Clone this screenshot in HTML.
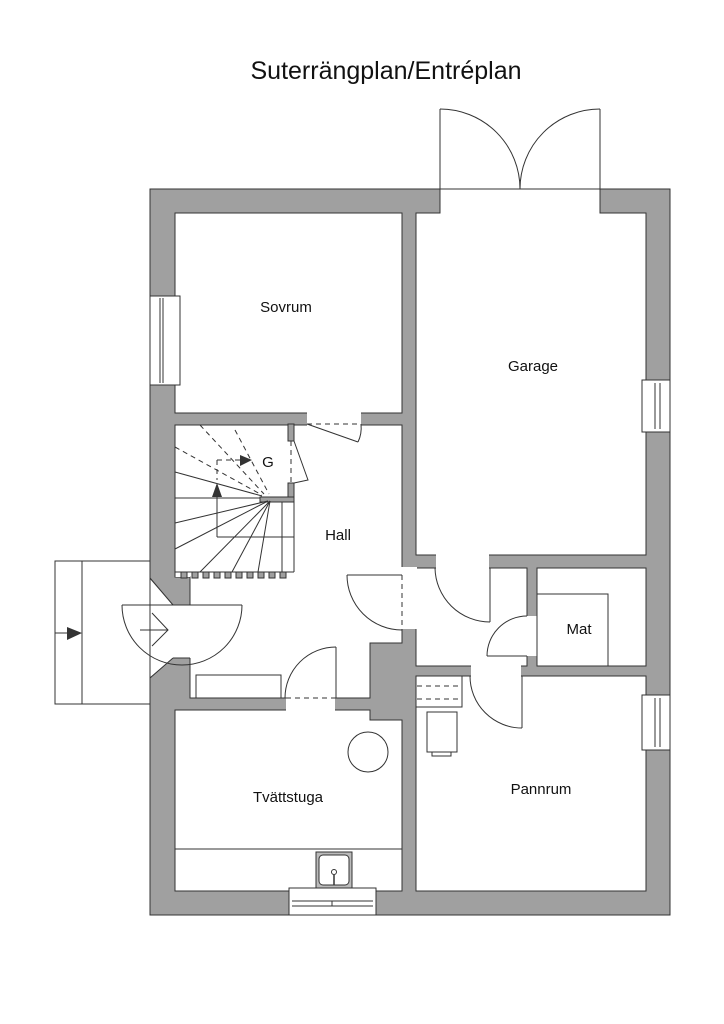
<!DOCTYPE html>
<html><head><meta charset="utf-8"><style>
html,body{margin:0;padding:0;background:#fff;}
svg{display:block;}
text{font-family:"Liberation Sans",sans-serif;fill:#111;}
</style></head><body>
<svg width="724" height="1024" viewBox="0 0 724 1024" xmlns="http://www.w3.org/2000/svg">
<g stroke="#333" stroke-width="1" fill="none">
<!-- building mass -->
<rect x="150" y="189" width="520" height="726" fill="#a0a0a0"/>
<!-- rooms -->
<rect x="175" y="213" width="227" height="200" fill="#fff"/>
<polygon points="416,213 440,213 440,189 600,189 600,213 646,213 646,555 416,555" fill="#fff"/>
<polygon points="175,425 402,425 402,643 370,643 370,698 190,698 190,577 175,577" fill="#fff"/>
<rect x="416" y="568" width="111" height="98" fill="#fff"/>
<rect x="537" y="568" width="109" height="98" fill="#fff"/>
<polygon points="175,710 370,710 370,720 402,720 402,891 175,891" fill="#fff"/>
<rect x="416" y="676" width="230" height="215" fill="#fff"/>
</g>
<!-- openings (no stroke) -->
<g fill="#fff" stroke="none">
<rect x="441" y="188" width="158" height="26"/>
<rect x="307" y="412" width="54" height="14"/>
<rect x="401" y="573" width="16" height="56"/>
<rect x="436" y="554" width="53" height="15"/>
<rect x="526" y="616" width="12" height="40"/>
<rect x="471" y="665" width="50" height="12"/>
<rect x="286" y="697" width="49" height="14"/>
<rect x="401" y="567" width="16" height="6"/>
<polygon points="149,578 173,605 191,605 191,658 173,658 149,678"/>
<rect x="175" y="572" width="15" height="5"/>
</g>
<g stroke="#333" stroke-width="1" fill="none">
<line x1="440" y1="189" x2="600" y2="189"/>
<line x1="173" y1="605" x2="190" y2="605"/>
<line x1="173" y1="658" x2="190" y2="658"/>
<line x1="150" y1="578" x2="173" y2="605"/>
<line x1="173" y1="658" x2="150" y2="678"/>
<line x1="175" y1="572" x2="175" y2="577"/>
<!-- stair stubs -->
<rect x="288" y="424" width="6" height="17" fill="#a0a0a0"/>
<rect x="288" y="483" width="6" height="14" fill="#a0a0a0"/>
<rect x="260" y="497" width="34" height="5" fill="#a0a0a0"/>
<!-- stair -->
<line x1="175" y1="572" x2="294" y2="572"/>
<line x1="294" y1="502" x2="294" y2="572"/>
<line x1="175" y1="472" x2="262" y2="496"/>
<line x1="175" y1="498" x2="260" y2="498"/>
<line x1="175" y1="523" x2="268" y2="501"/>
<line x1="175" y1="549" x2="268" y2="501"/>
<line x1="200" y1="572" x2="270" y2="501"/>
<line x1="232" y1="572" x2="270" y2="501"/>
<line x1="258" y1="572" x2="270" y2="501"/>
<line x1="282" y1="502" x2="282" y2="572"/>
<line x1="217" y1="537" x2="294" y2="537"/>
<line x1="217" y1="495" x2="217" y2="537"/>
<g stroke-dasharray="5,4">
<line x1="175" y1="447" x2="262" y2="495"/>
<line x1="200" y1="425" x2="264" y2="494"/>
<line x1="235" y1="430" x2="269" y2="494"/>
<line x1="217" y1="460" x2="250" y2="460"/>
<line x1="217" y1="460" x2="217" y2="480"/>
<line x1="291" y1="441" x2="291" y2="483"/>
<line x1="307" y1="424" x2="361" y2="424"/>
<line x1="150" y1="578" x2="150" y2="678"/>
<line x1="402" y1="575" x2="402" y2="630"/>
<line x1="286" y1="698" x2="336" y2="698"/>
<line x1="417" y1="686" x2="462" y2="686"/>
<line x1="417" y1="699" x2="462" y2="699"/>
</g>
<g fill="#333" stroke="none">
<polygon points="212,497 222,497 217,483"/>
<polygon points="240,455 240,466 252,460"/>
<polygon points="67,627 67,640 82,633"/>
</g>
<g fill="#a0a0a0">
<rect x="180" y="572" width="0" height="0"/>
<rect x="181" y="572" width="6" height="6"/><rect x="192" y="572" width="6" height="6"/><rect x="203" y="572" width="6" height="6"/><rect x="214" y="572" width="6" height="6"/><rect x="225" y="572" width="6" height="6"/><rect x="236" y="572" width="6" height="6"/><rect x="247" y="572" width="6" height="6"/><rect x="258" y="572" width="6" height="6"/><rect x="269" y="572" width="6" height="6"/><rect x="280" y="572" width="6" height="6"/>
</g>
<!-- stair door -->
<polyline points="294,441 308,480 294,483"/>
<!-- sovrum door -->
<line x1="307" y1="424" x2="358" y2="442"/>
<path d="M358,442 Q362,434 361,424"/>
<!-- garage doors -->
<line x1="440" y1="189" x2="440" y2="109"/>
<line x1="600" y1="189" x2="600" y2="109"/>
<path d="M440,109 A80,80 0 0 1 520,189"/>
<path d="M600,109 A80,80 0 0 0 520,189"/>
<!-- entrance -->
<rect x="55" y="561" width="95" height="143"/>
<line x1="82" y1="561" x2="82" y2="704"/>
<line x1="55" y1="633" x2="67" y2="633"/>
<line x1="122" y1="605" x2="242" y2="605"/>
<path d="M122,605 A60,60 0 0 0 242,605"/>
<line x1="140" y1="630" x2="168" y2="630"/>
<polyline points="152,613 168,630 152,646"/>
<!-- hall -> corridor door -->
<line x1="347" y1="575" x2="402" y2="575"/>
<path d="M347,575 A55,55 0 0 0 402,630"/>
<!-- tvatt door -->
<line x1="336" y1="647" x2="336" y2="698"/>
<path d="M285,698 A51,51 0 0 1 336,647"/>
<rect x="196" y="675" width="85" height="23"/>
<!-- garage door to corridor -->
<line x1="490" y1="568" x2="490" y2="622"/>
<path d="M435,568 A55,55 0 0 0 490,622"/>
<!-- mat door -->
<line x1="487" y1="656" x2="527" y2="656"/>
<path d="M487,656 A40,40 0 0 1 527,616"/>
<rect x="537" y="594" width="71" height="72"/>
<!-- pannrum door -->
<line x1="522" y1="676" x2="522" y2="728"/>
<path d="M470,676 A52,52 0 0 0 522,728"/>
<rect x="416" y="676" width="46" height="31"/>
<rect x="427" y="712" width="30" height="40"/>
<rect x="432" y="752" width="19" height="4"/>
<!-- tvatt -->
<circle cx="368" cy="752" r="20"/>
<line x1="175" y1="849" x2="402" y2="849"/>
<rect x="316" y="852" width="36" height="36" fill="#bbb"/>
<rect x="319" y="855" width="30" height="30" rx="4" fill="#fff"/>
<circle cx="334" cy="872" r="2.5"/>
<line x1="334" y1="875" x2="334" y2="885" stroke-width="1.5"/>
<!-- windows -->
<rect x="150" y="296" width="30" height="89" fill="#fff"/>
<line x1="160" y1="298" x2="160" y2="383"/><line x1="163" y1="298" x2="163" y2="383"/>
<rect x="642" y="380" width="28" height="52" fill="#fff"/>
<line x1="655" y1="383" x2="655" y2="429"/><line x1="660" y1="383" x2="660" y2="429"/>
<rect x="642" y="695" width="28" height="55" fill="#fff"/>
<line x1="655" y1="698" x2="655" y2="747"/><line x1="660" y1="698" x2="660" y2="747"/>
<rect x="289" y="888" width="87" height="27" fill="#fff"/>
<line x1="292" y1="901" x2="373" y2="901"/><line x1="292" y1="906" x2="373" y2="906"/>
<line x1="332" y1="901" x2="332" y2="906"/>
</g>
<text x="386" y="79" font-size="25" text-anchor="middle">Suterrängplan/Entréplan</text>
<g font-size="15" text-anchor="middle">
<text x="286" y="312">Sovrum</text>
<text x="533" y="371">Garage</text>
<text x="338" y="540">Hall</text>
<text x="268" y="467">G</text>
<text x="579" y="634">Mat</text>
<text x="541" y="794">Pannrum</text>
<text x="288" y="802">Tvättstuga</text>
</g>
</svg>
</body></html>
